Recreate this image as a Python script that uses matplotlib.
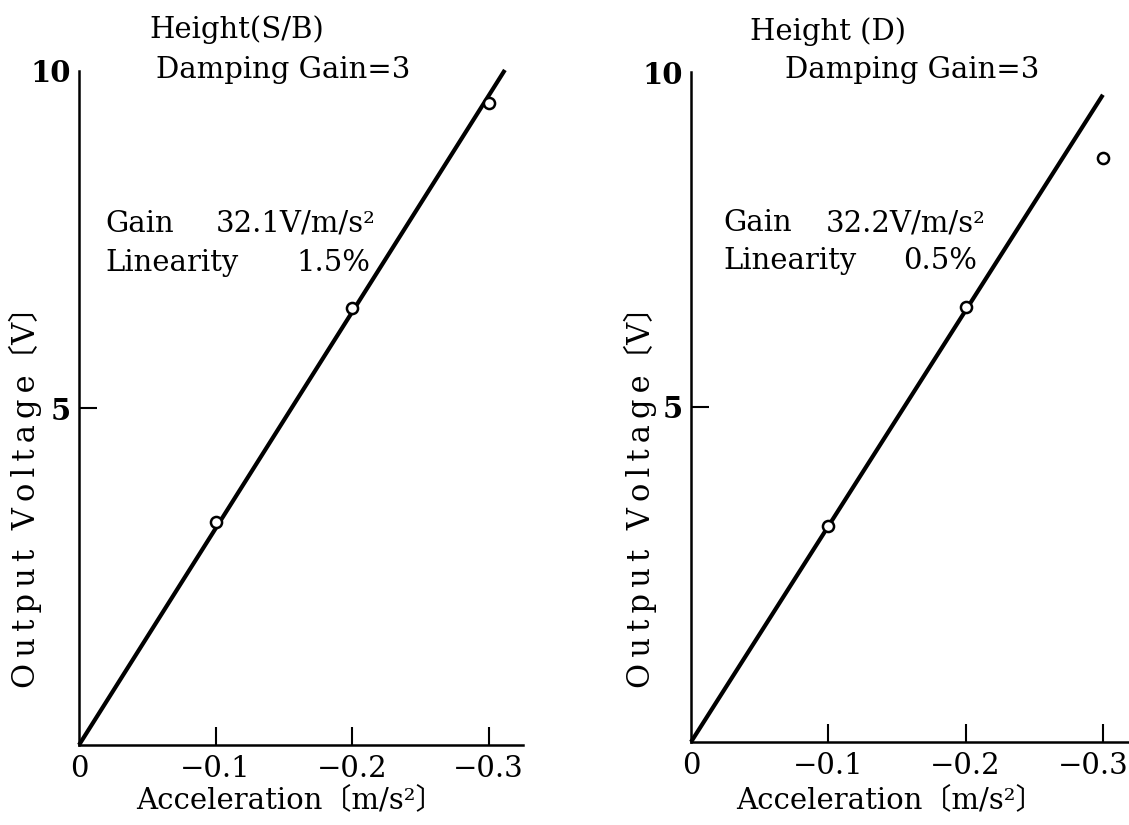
import matplotlib
matplotlib.use("Agg")
import matplotlib.pyplot as plt
from matplotlib.transforms import ScaledTranslation

plt.rcParams['font.family'] = ['DejaVu Serif', 'Noto Sans CJK JP']

# Measured calibration points: acceleration [m/s^2] vs output voltage [V]
accel = [-0.1, -0.2, -0.3]
volts_sb = [3.31, 6.48, 9.52]
volts_d = [3.22, 6.50, 8.72]

# Fitted sensitivity [V/(m/s^2)] and extent of the fitted line
gain_sb = 32.1
gain_d = 32.2
fit_end_sb = -0.312
fit_end_d = -0.300

xticks = [0, -0.1, -0.2, -0.3]
xticklabels = ['0', '\u22120.1', '\u22120.2', '\u22120.3']
yticks = [5, 10]
yticklabels = ['5', '10']

W, H = 1129, 825
fig = plt.figure(figsize=(W / 100, H / 100), dpi=100)


def axes_px(x0, x1, ytop, ybot):
    return fig.add_axes([x0 / W, (H - ybot) / H, (x1 - x0) / W, (ybot - ytop) / H])


def ftext(x, y, s, **kw):
    fig.text(x / W, (H - y) / H, s, **kw)


def spaced(s):
    # widen the tracking of a label with thin spaces between letters
    return '\u2009'.join(s)


FS = 21
XLABEL = 'Acceleration\u3014m/s\u00b2\u3015'
YLABEL = spaced('Output') + '  ' + spaced('Voltage') + '\u3014V\u3015'


def panel(ax, xmax, volts, gain, fit_end):
    ax.set_xlim(0, xmax)
    ax.set_ylim(0, 10)
    for side in ('top', 'right'):
        ax.spines[side].set_visible(False)
    for side in ('left', 'bottom'):
        ax.spines[side].set_linewidth(1.8)
    ax.plot([0, fit_end], [0, -gain * fit_end], color='black', lw=3.0,
            solid_capstyle='butt', zorder=2, clip_on=False)
    ax.plot(accel, volts, linestyle='none', marker='o', ms=8, mew=1.8,
            mfc='white', mec='black', zorder=3, clip_on=False)
    ax.set_xticks(xticks)
    ax.set_xticklabels(xticklabels, fontsize=FS)
    ax.set_yticks(yticks)
    ax.set_yticklabels(yticklabels, fontsize=FS, fontweight='bold')
    ax.tick_params(axis='both', direction='in', length=13, width=1.5)
    ax.tick_params(axis='x', pad=7)
    ax.tick_params(axis='y', pad=6)
    ax.xaxis.get_major_ticks()[0].tick1line.set_visible(False)
    ax.yaxis.get_major_ticks()[1].tick1line.set_visible(False)


# Left panel: Height (S/B)
ax1 = axes_px(79, 523, 71, 745)
panel(ax1, -(523 - 79) / 1365, volts_sb, gain_sb, fit_end_sb)
ftext(237, 30, 'Height(S/B)', fontsize=FS, ha='center', va='center')
ftext(283, 70, 'Damping Gain=3', fontsize=FS, ha='center', va='center')
ftext(105, 224, 'Gain', fontsize=FS, ha='left', va='center')
ftext(376, 224, '32.1V/m/s\u00b2', fontsize=FS, ha='right', va='center')
ftext(105, 263, 'Linearity', fontsize=FS, ha='left', va='center')
ftext(370, 263, '1.5%', fontsize=FS, ha='right', va='center')
ftext(290, 800, XLABEL, fontsize=FS, ha='center', va='center')
ftext(25, 490, YLABEL, fontsize=22, ha='center', va='center', rotation=90)

# Right panel: Height (D)
ax2 = axes_px(691, 1129, 72, 742)
panel(ax2, -(1129 - 691) / 1373, volts_d, gain_d, fit_end_d)
# keep the last tick label inside the figure edge
last = ax2.get_xticklabels()[-1]
last.set_transform(last.get_transform()
                   + ScaledTranslation(-7 / 72, 0, fig.dpi_scale_trans))
ftext(828, 32, 'Height (D)', fontsize=FS, ha='center', va='center')
ftext(912, 70, 'Damping Gain=3', fontsize=FS, ha='center', va='center')
ftext(723, 223, 'Gain', fontsize=FS, ha='left', va='center')
ftext(986, 223, '32.2V/m/s\u00b2', fontsize=FS, ha='right', va='center')
ftext(723, 261, 'Linearity', fontsize=FS, ha='left', va='center')
ftext(977, 261, '0.5%', fontsize=FS, ha='right', va='center')
ftext(890, 800, XLABEL, fontsize=FS, ha='center', va='center')
ftext(640, 490, YLABEL, fontsize=22, ha='center', va='center', rotation=90)

fig.savefig('out.png', dpi=100, facecolor='white')
